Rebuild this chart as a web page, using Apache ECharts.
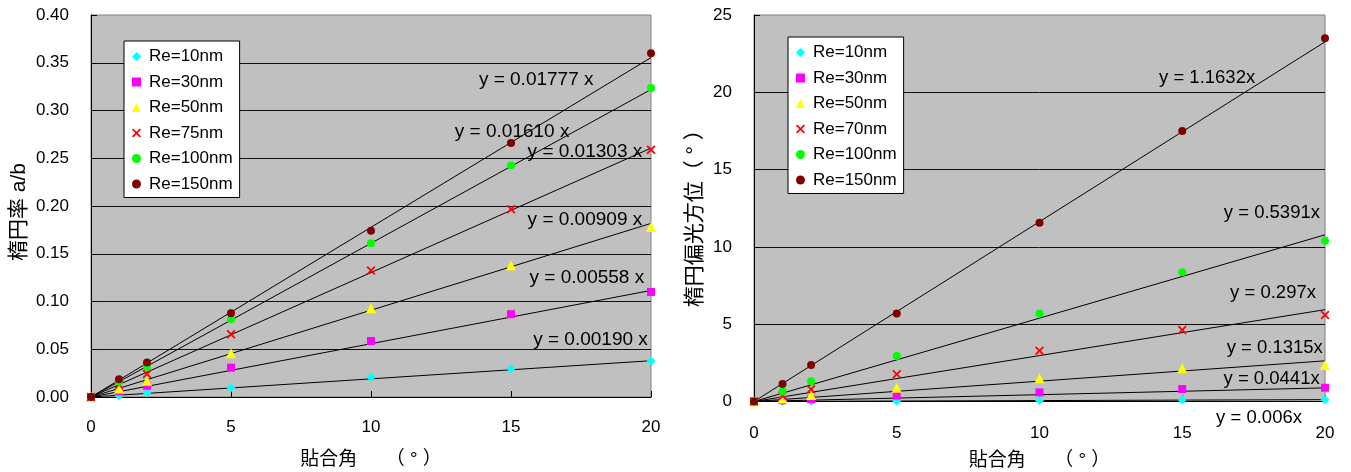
<!DOCTYPE html>
<html><head><meta charset="utf-8">
<script src="https://cdn.jsdelivr.net/npm/echarts@6/dist/echarts.min.js"></script>
<style>html,body{margin:0;padding:0;background:#fff}#c{width:1351px;height:472px}</style>
</head><body><div id="c"></div>
<script>
// ---------- data ----------
const angles = [0, 1, 2, 5, 10, 15, 20];

const leftNames = ['Re=10nm', 'Re=30nm', 'Re=50nm', 'Re=75nm', 'Re=100nm', 'Re=150nm'];
const leftRe10  = [0, 0.0014, 0.0045, 0.0098, 0.0206, 0.0297, 0.0377];
const leftRe30  = [0, 0.0060, 0.0118, 0.0307, 0.0587, 0.0867, 0.1100];
const leftRe50  = [0, 0.0090, 0.0170, 0.0458, 0.0930, 0.1380, 0.1780];
const leftRe75  = [0, 0.0130, 0.0240, 0.0657, 0.1324, 0.1967, 0.2590];
const leftRe100 = [0, 0.0160, 0.0318, 0.0814, 0.1610, 0.2424, 0.3235];
const leftRe150 = [0, 0.0185, 0.0360, 0.0877, 0.1740, 0.2660, 0.3600];
const leftSlopes = [0.00190, 0.00558, 0.00909, 0.01303, 0.01610, 0.01777];
const leftEqTexts = ['y = 0.00190 x', 'y = 0.00558 x', 'y = 0.00909 x', 'y = 0.01303 x', 'y = 0.01610 x', 'y = 0.01777 x'];
const leftYTicks = { min: 0, max: 0.4, interval: 0.05 };

const rightNames = ['Re=10nm', 'Re=30nm', 'Re=50nm', 'Re=70nm', 'Re=100nm', 'Re=150nm'];
const rightRe10  = [0, 0.005, 0.01, 0.03, 0.06, 0.09, 0.11];
const rightRe30  = [0, 0.08, 0.15, 0.38, 0.59, 0.81, 0.89];
const rightRe50  = [0, 0.20, 0.42, 0.89, 1.50, 2.15, 2.36];
const rightRe70  = [0, 0.35, 0.79, 1.76, 3.29, 4.62, 5.59];
const rightRe100 = [0, 0.64, 1.31, 2.94, 5.70, 8.36, 10.40];
const rightRe150 = [0, 1.13, 2.36, 5.70, 11.57, 17.50, 23.49];
const rightSlopes = [0.006, 0.0441, 0.1315, 0.297, 0.5391, 1.1632];
const rightEqTexts = ['y = 0.006x', 'y = 0.0441x', 'y = 0.1315x', 'y = 0.297x', 'y = 0.5391x', 'y = 1.1632x'];
const rightYTicks = { min: 0, max: 25, interval: 5 };

const xTicks = { min: 0, max: 20, interval: 5 };

// ---------- layout (label anchors in data units, not marks) ----------
const leftEqAnchors  = [[17.84, 0.0597], [17.71, 0.1244], [17.64, 0.186], [17.64, 0.257], [15.04, 0.278], [15.9, 0.332]];
const rightEqAnchors = [[17.69, -1.05], [18.13, 1.44], [18.24, 3.48], [18.18, 7.0], [18.14, 12.17], [15.87, 20.92]];

// ---------- styles ----------
const xPath = 'path://M0,1.4L1.4,0L5,3.6L8.6,0L10,1.4L6.4,5L10,8.6L8.6,10L5,6.4L1.4,10L0,8.6L3.6,5Z';
const symbols = ['diamond', 'rect', 'triangle', xPath, 'circle', 'circle'];
const symSizes = [9, 8, 10, 9, 8, 8];
const colors = ['#00ffff', '#ff00ff', '#ffff00', '#ff0000', '#00ff00', '#800000'];
const FONT = "'Liberation Sans', 'Noto Sans CJK JP', sans-serif";

const leftData = [leftRe10, leftRe30, leftRe50, leftRe75, leftRe100, leftRe150];
const rightData = [rightRe10, rightRe30, rightRe50, rightRe70, rightRe100, rightRe150];

function pts(vals) { return angles.map((a, i) => [a, vals[i]]); }

const series = [];
function addSeries(names, datas, slopes, gi) {
  slopes.forEach((k, i) => {
    series.push({
      type: 'line', xAxisIndex: gi, yAxisIndex: gi, silent: true, z: 2,
      showSymbol: false, symbol: 'none',
      lineStyle: { color: '#000', width: 1 },
      data: [[xTicks.min, 0], [xTicks.max, k * xTicks.max]]
    });
  });
  names.forEach((n, i) => {
    series.push({
      type: 'scatter', name: n, xAxisIndex: gi, yAxisIndex: gi, z: 5,
      symbol: symbols[i], symbolSize: symSizes[i],
      itemStyle: { color: colors[i], opacity: 1 },
      data: pts(datas[i])
    });
  });
}
addSeries(leftNames, leftData, leftSlopes, 0);
addSeries(rightNames, rightData, rightSlopes, 1);

function xAxis(gi, gap, margin) {
  return {
    type: 'value', gridIndex: gi, min: xTicks.min, max: xTicks.max, interval: xTicks.interval,
    name: '貼合角　　（ ° ）', nameLocation: 'middle', nameGap: gap,
    nameTextStyle: { fontFamily: FONT, fontSize: 19, color: '#000' },
    axisLine: { show: true, onZero: false, lineStyle: { color: '#000', width: 1 } },
    axisTick: { show: true, inside: true, length: 6, lineStyle: { color: '#000' } },
    axisLabel: { fontFamily: FONT, fontSize: 17, color: '#000', margin: margin },
    splitLine: { show: false }
  };
}
function yAxis(gi, t, name, gap, pad, fmt) {
  return {
    type: 'value', gridIndex: gi, min: t.min, max: t.max, interval: t.interval,
    name: name, nameLocation: 'middle', nameGap: gap,
    nameTextStyle: { fontFamily: FONT, fontSize: 21, color: '#000', padding: pad },
    axisLine: { show: true, onZero: false, lineStyle: { color: '#000', width: 1 } },
    axisTick: { show: true, inside: true, length: 6, lineStyle: { color: '#000' } },
    axisLabel: { fontFamily: FONT, fontSize: 17, color: '#000', margin: 22, formatter: fmt },
    splitLine: { show: true, showMaxLine: false, lineStyle: { color: '#111', width: 1 } }
  };
}
function legend(left, top, names) {
  return {
    orient: 'vertical', left: left, top: top, data: names, selectedMode: false,
    backgroundColor: '#ffffff', borderColor: '#000', borderWidth: 1, borderRadius: 0,
    padding: [7, 7, 5, 8], itemGap: 8.5, itemWidth: 9, itemHeight: 9,
    textStyle: { fontFamily: FONT, fontSize: 17, color: '#000', padding: [0, 0, 0, 3] }
  };
}

const gridBase = { show: true, backgroundColor: '#c0c0c0', borderColor: '#808080', borderWidth: 1, containLabel: false, outerBoundsMode: 'none' };
const option = {
  animation: false,
  backgroundColor: '#ffffff',
  grid: [
    Object.assign({ left: 91, right: 700, top: 15, bottom: 75 }, gridBase),
    Object.assign({ left: 754, right: 26, top: 15, bottom: 70.5 }, gridBase)
  ],
  xAxis: [xAxis(0, 53, 22), xAxis(1, 50, 23)],
  yAxis: [
    yAxis(0, leftYTicks, '楕円率 a/b', 61, [0, 12, 0, 0], v => v.toFixed(2)),
    yAxis(1, rightYTicks, '楕円偏光方位（ ° ）', 48, [0, 10, 0, 0], v => String(v))
  ],
  legend: [legend(124, 41, leftNames), legend(788, 37, rightNames)],
  series: series
};

const chart = echarts.init(document.getElementById('c'), null, { renderer: 'canvas' });
chart.setOption(option);

const graphics = [];
function eqLabels(gi, texts, anchors, fs) {
  texts.forEach((t, i) => {
    const p = chart.convertToPixel({ gridIndex: gi }, anchors[i]);
    graphics.push({
      type: 'text', x: p[0], y: p[1], z: 10, silent: true,
      style: { text: t, fill: '#000', font: fs + 'px ' + FONT, textAlign: 'center', textVerticalAlign: 'middle' }
    });
  });
}
eqLabels(0, leftEqTexts, leftEqAnchors, 19);
eqLabels(1, rightEqTexts, rightEqAnchors, 18.5);
chart.setOption({ graphic: graphics });
</script>
</body></html>
